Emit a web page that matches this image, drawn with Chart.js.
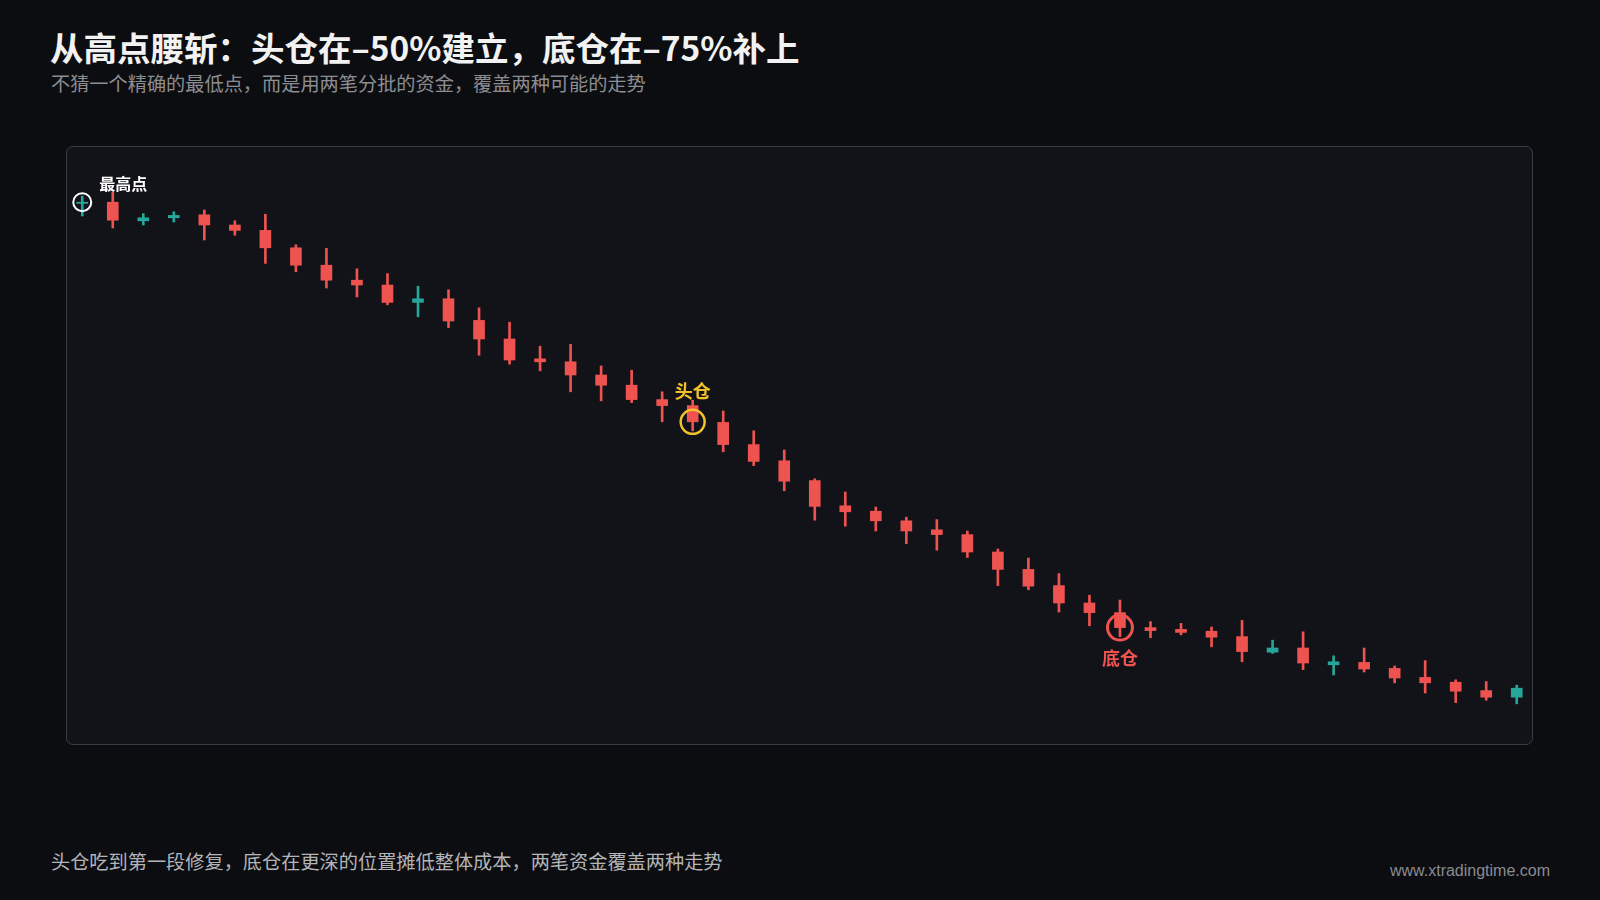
<!DOCTYPE html>
<html lang="zh-CN">
<head>
<meta charset="utf-8">
<title>从高点腰斩</title>
<script src="https://cdn.jsdelivr.net/npm/chart.js@4.4.1/dist/chart.umd.min.js"></script>
<style>
  html, body { margin: 0; padding: 0; background: #0c0d11; }
  body {
    width: 1600px; height: 900px; position: relative; overflow: hidden;
    font-family: "Noto Sans CJK SC", "Noto Sans", sans-serif;
  }
  .title {
    position: absolute; left: 50px; top: 28px;
    font-size: 33.5px; font-weight: 700; line-height: 38px;
    color: #f2f2f2; white-space: nowrap;
  }
  .subtitle {
    position: absolute; left: 51px; top: 72px;
    font-size: 19.2px; line-height: 22px; color: #8c8d92; white-space: nowrap;
  }
  .box {
    position: absolute; left: 66px; top: 146px; width: 1467px; height: 599px;
    box-sizing: border-box; border: 1px solid #3a3d44; border-radius: 7px;
    background: #111318;
  }
  .box .inner { position: relative; width: 100%; height: 100%; }
  .foot {
    position: absolute; left: 51px; top: 850px;
    font-size: 19.2px; line-height: 22px; color: #b4b5b9; white-space: nowrap;
  }
  .site {
    position: absolute; right: 50px; top: 861px;
    font-family: "Liberation Sans", Arial, sans-serif;
    font-size: 16px; line-height: 20px; color: #8a8b90;
  }
</style>
</head>
<body>
<div class="title">从高点腰斩：头仓在–50%建立，底仓在–75%补上</div>
<div class="subtitle">不猜一个精确的最低点，而是用两笔分批的资金，覆盖两种可能的走势</div>
<div class="box"><div class="inner"><canvas id="candles"></canvas></div></div>
<div class="foot">头仓吃到第一段修复，底仓在更深的位置摊低整体成本，两笔资金覆盖两种走势</div>
<div class="site">www.xtradingtime.com</div>

<script>
// daily candles, price (highest high = 100)
const opens  = [98.1, 98.3, 95.2, 95.7, 96.2, 94.5, 93.6, 90.7, 87.8, 85.3, 84.5, 81.6,
                82.2, 78.6, 75.5, 72.2, 71.7, 69.5, 67.8, 65.4, 64.4, 61.6, 57.9, 55.2,
                51.9, 47.7, 46.8, 45.2, 43.7, 42.9, 40.0, 37.1, 34.4, 31.5, 29.9, 27.4,
                27.1, 26.8, 25.9, 23.3, 24.0, 21.2, 21.6, 20.6, 19.1, 18.3, 16.9, 15.8];
const highs  = [99.3, 100.0, 96.4, 96.7, 97.0, 95.2, 96.3, 91.2, 90.6, 87.2, 86.4, 84.3,
                83.7, 80.7, 78.3, 74.3, 74.6, 71.0, 70.3, 66.7, 65.3, 63.5, 60.2, 57.0,
                52.2, 50.0, 47.5, 45.8, 45.4, 43.5, 40.5, 39.0, 36.4, 32.8, 32.0, 28.4,
                28.1, 27.5, 28.6, 25.3, 26.7, 22.7, 24.0, 21.0, 21.9, 18.7, 18.4, 17.8];
const lows   = [96.0, 94.0, 94.5, 95.0, 92.0, 92.8, 88.1, 86.7, 84.0, 82.5, 81.2, 79.2,
                77.4, 72.8, 71.3, 70.2, 66.7, 65.2, 64.9, 61.7, 60.2, 56.7, 54.4, 50.2,
                45.3, 44.3, 43.5, 41.4, 40.3, 39.1, 34.4, 33.7, 30.0, 27.7, 25.9, 25.7,
                26.2, 24.2, 21.7, 23.1, 20.4, 19.5, 20.0, 18.2, 16.5, 14.9, 15.3, 14.7];
const closes = [98.3, 95.3, 95.7, 96.1, 94.5, 93.6, 90.7, 87.8, 85.3, 84.5, 81.6, 82.2,
                78.5, 75.5, 72.0, 71.7, 69.5, 67.8, 65.4, 64.4, 61.7, 57.9, 55.1, 51.8,
                47.6, 46.7, 45.2, 43.5, 42.9, 40.0, 37.1, 34.3, 31.5, 29.9, 27.4, 26.9,
                26.6, 25.8, 23.4, 24.0, 21.5, 21.7, 20.5, 19.0, 18.2, 16.8, 15.8, 17.3];

// marked candles: highest point, first buy, second buy
const markIdx  = [0, 20, 34];
const markText = ['最高点', '头仓', '底仓'];

const days = opens.map((_, i) => 'D' + (i + 1));

const UP = '#26a69a';
const DOWN = '#ef5350';
const candleColor = opens.map((o, i) => closes[i] >= o ? UP : DOWN);

// look of the three markers (colour, ring size, label offset)
const markStyle = [
  { color: '#ffffff', radius: 9,    width: 2,   dx: 17, dy: -18, align: 'left',   font: '700 16px "Noto Sans CJK SC"' },
  { color: '#f3c22b', radius: 12,   width: 2.5, dx: 0,  dy: -31, align: 'center', font: '700 18px "Noto Sans CJK SC"' },
  { color: '#ef5350', radius: 12.5, width: 3,   dx: 0,  dy: 31,  align: 'center', font: '700 18px "Noto Sans CJK SC"' }
];

const ringData = closes.map((c, i) => markIdx.includes(i) ? c : null);
const ringOf = (i) => markStyle[markIdx.indexOf(i)];

const markLabels = {
  id: 'markLabels',
  afterDatasetsDraw(chart) {
    const { ctx, scales: { x, y } } = chart;
    ctx.save();
    ctx.textBaseline = 'middle';
    markIdx.forEach((idx, k) => {
      const s = markStyle[k];
      ctx.font = s.font;
      ctx.fillStyle = s.color;
      ctx.textAlign = s.align;
      ctx.fillText(markText[k], x.getPixelForValue(idx) + s.dx, y.getPixelForValue(closes[idx]) + s.dy);
    });
    ctx.restore();
  }
};

new Chart(document.getElementById('candles'), {
  type: 'bar',
  data: {
    labels: days,
    datasets: [
      {
        type: 'line',
        data: ringData,
        showLine: false,
        clip: false,
        order: 0,
        pointRadius: ringData.map((v, i) => v === null ? 0 : ringOf(i).radius),
        pointBorderWidth: ringData.map((v, i) => v === null ? 0 : ringOf(i).width),
        pointBorderColor: ringData.map((v, i) => v === null ? 'transparent' : ringOf(i).color),
        pointBackgroundColor: 'rgba(0,0,0,0)'
      },
      {
        data: opens.map((o, i) => [o, closes[i]]),
        backgroundColor: candleColor,
        barThickness: 11,
        grouped: false,
        borderWidth: 0,
        order: 1
      },
      {
        data: lows.map((l, i) => [l, highs[i]]),
        backgroundColor: candleColor,
        barThickness: 2,
        grouped: false,
        borderWidth: 0,
        order: 2
      }
    ]
  },
  options: {
    responsive: true,
    maintainAspectRatio: false,
    animation: false,
    layout: { padding: 0, autoPadding: false },
    plugins: {
      legend: { display: false },
      tooltip: { enabled: false }
    },
    scales: {
      x: { display: false, offset: true },
      y: { display: false, min: 8, max: 107.5 }
    }
  },
  plugins: [markLabels]
});
</script>
</body>
</html>
